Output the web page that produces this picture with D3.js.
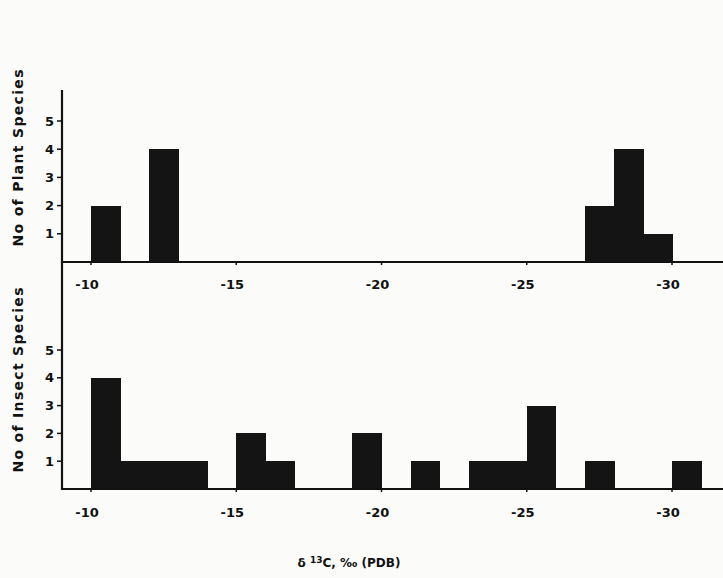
<!DOCTYPE html>
<html>
<head>
<meta charset="utf-8">
<script src="https://cdn.jsdelivr.net/npm/d3@7"></script>
<style>
  body { margin: 0; background: #fbfbfa; }
  svg { display: block; }
  text { font-family: "DejaVu Sans", sans-serif; font-weight: bold; fill: #111; }
</style>
</head>
<body>
<div id="chart"></div>
<script>
"use strict";
// bins are 1 per mil wide, identified by their start value
const plantBinStart = [-10, -12, -27, -28, -29];
const plantCounts = [2, 4, 2, 4, 1];
const insectBinStart = [-10, -11, -12, -13, -15, -16, -19, -21, -23, -24, -25, -27, -30];
const insectCounts = [4, 1, 1, 1, 2, 1, 2, 1, 1, 1, 3, 1, 1];
const xTicks = [-10, -15, -20, -25, -30];
const yTicks = [1, 2, 3, 4, 5];

const width = 723;
const height = 578;
const axisX = 62;

const svg = d3.select("#chart")
    .append("svg")
    .attr("width", width)
    .attr("height", height);

const xScale = d3.scaleLinear()
    .domain([-10, -30])
    .range([91, 672]);

const yPlant = d3.scaleLinear().domain([0, 5]).range([262, 121]);
const yInsect = d3.scaleLinear().domain([0, 5]).range([489, 350]);

function drawPanel(yScale, starts, counts, labelY, title, titleLen, titleY) {
    const data = starts.map((s, i) => ({ start: s, count: counts[i] }));
    svg.append("g")
        .selectAll("rect")
        .data(data)
        .enter()
        .append("rect")
        .attr("x", d => xScale(d.start))
        .attr("width", d => xScale(d.start - 1) - xScale(d.start) + 0.6)
        .attr("y", d => yScale(d.count))
        .attr("height", d => yScale(0) - yScale(d.count))
        .attr("fill", "#141414")
        .attr("shape-rendering", "crispEdges");

    // baseline
    svg.append("line")
        .attr("x1", axisX)
        .attr("x2", width)
        .attr("y1", yScale(0))
        .attr("y2", yScale(0))
        .attr("stroke", "#111")
        .attr("stroke-width", 2.2);

    // x ticks and labels
    const xg = svg.append("g");
    xg.selectAll("line")
        .data(xTicks)
        .enter()
        .append("line")
        .attr("x1", d => xScale(d))
        .attr("x2", d => xScale(d))
        .attr("y1", yScale(0))
        .attr("y2", yScale(0) + 3)
        .attr("stroke", "#111")
        .attr("stroke-width", 1.5);
    xg.selectAll("text")
        .data(xTicks)
        .enter()
        .append("text")
        .attr("x", d => xScale(d) - 4)
        .attr("y", labelY)
        .attr("dy", "0.35em")
        .attr("text-anchor", "middle")
        .style("font-size", "13px")
        .text(d => "-" + Math.abs(d));

    // y ticks and labels
    const yg = svg.append("g");
    yg.selectAll("line")
        .data(yTicks)
        .enter()
        .append("line")
        .attr("x1", axisX - 5)
        .attr("x2", axisX)
        .attr("y1", d => yScale(d))
        .attr("y2", d => yScale(d))
        .attr("stroke", "#111")
        .attr("stroke-width", 1.5);
    yg.selectAll("text")
        .data(yTicks)
        .enter()
        .append("text")
        .attr("x", axisX - 8)
        .attr("y", d => yScale(d))
        .attr("dy", "0.36em")
        .attr("text-anchor", "end")
        .style("font-size", "13px")
        .text(d => d);

    svg.append("text")
        .attr("transform", `translate(23, ${titleY}) rotate(-90)`)
        .attr("text-anchor", "middle")
        .attr("textLength", titleLen)
        .attr("lengthAdjust", "spacing")
        .style("font-size", "14px")
        .text(title);
}

drawPanel(yPlant, plantBinStart, plantCounts, 284, "No of Plant Species", 177, 158);
drawPanel(yInsect, insectBinStart, insectCounts, 512, "No of Insect Species", 185, 380);

// shared vertical axis
svg.append("line")
    .attr("x1", axisX)
    .attr("x2", axisX)
    .attr("y1", 90)
    .attr("y2", yInsect(0) + 1)
    .attr("stroke", "#111")
    .attr("stroke-width", 2.2);

// x axis title
const title = svg.append("text")
    .attr("x", 349)
    .attr("y", 567)
    .attr("text-anchor", "middle")
    .style("font-size", "12px");
title.append("tspan").text("δ ");
title.append("tspan").attr("dy", -4).style("font-size", "9px").text("13");
title.append("tspan").attr("dy", 4).text("C,  ‰  (PDB)");
</script>
</body>
</html>
